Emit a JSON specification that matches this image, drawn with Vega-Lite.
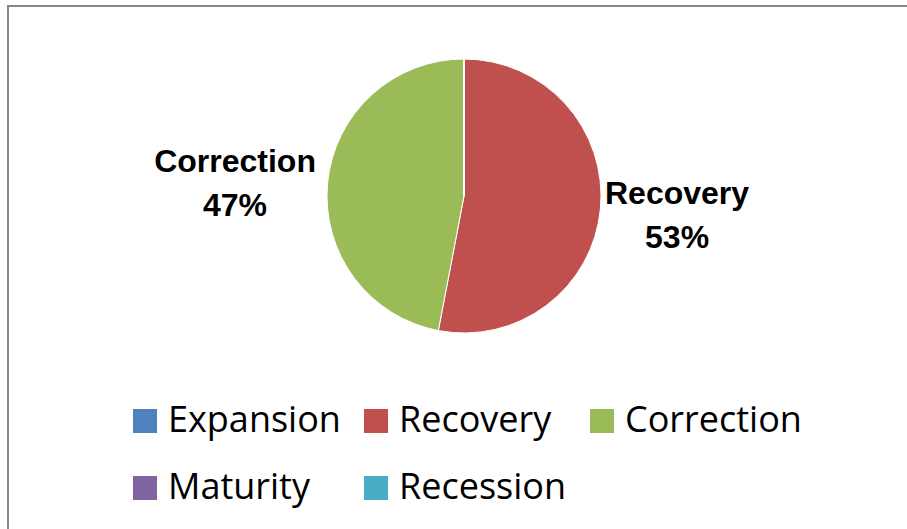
{
  "$schema": "https://vega.github.io/schema/vega-lite/v6.json",
  "width": 912,
  "height": 540,
  "autosize": {"type": "none"},
  "padding": {"left": 8, "top": 6, "right": 0, "bottom": 0},
  "background": "white",
  "view": {"stroke": "#868686", "strokeWidth": 2, "fill": "white"},
  "data": {
    "values": [
      {"category": "Expansion", "value": 0, "order": 1},
      {"category": "Recovery", "value": 53, "order": 2},
      {"category": "Correction", "value": 47, "order": 3},
      {"category": "Maturity", "value": 0, "order": 4},
      {"category": "Recession", "value": 0, "order": 5}
    ]
  },
  "encoding": {
    "theta": {"field": "value", "type": "quantitative", "stack": true},
    "order": {"field": "order", "type": "quantitative"}
  },
  "layer": [
    {
      "mark": {"type": "arc", "outerRadius": 137, "yOffset": -80, "stroke": "white", "strokeWidth": 1},
      "encoding": {
        "color": {
          "field": "category",
          "type": "nominal",
          "sort": ["Expansion", "Recovery", "Correction", "Maturity", "Recession"],
          "scale": {
            "domain": ["Expansion", "Recovery", "Correction", "Maturity", "Recession"],
            "range": ["#4F81BD", "#C0504D", "#9BBB59", "#8064A2", "#4BACC6"]
          },
          "legend": {
            "title": null,
            "orient": "none",
            "direction": "horizontal",
            "legendX": 119,
            "legendY": 397,
            "columns": 3,
            "padding": 0,
            "symbolType": "square",
            "symbolSize": 576,
            "symbolStrokeWidth": 0,
            "symbolOpacity": 1,
            "labelFont": "Open Sans",
            "labelFontSize": 36,
            "labelColor": "#000000",
            "labelLimit": 400,
            "labelOffset": 5,
            "columnPadding": 17,
            "rowPadding": 31
          }
        }
      }
    },
    {
      "transform": [
        {"calculate": "datum.value > 0 ? datum.category + '\\n' + datum.value + '%' : ''", "as": "label"}
      ],
      "mark": {
        "type": "text",
        "radius": {"expr": "datum.category == 'Correction' ? 230 : 214"},
        "yOffset": {"expr": "datum.category == 'Correction' ? -92 : -102"},
        "font": "Liberation Sans",
        "fontSize": 32,
        "fontWeight": "bold",
        "lineBreak": "\n",
        "lineHeight": 44,
        "align": "center",
        "baseline": "middle",
        "color": "#000000"
      },
      "encoding": {
        "text": {"field": "label", "type": "nominal"}
      }
    }
  ]
}
